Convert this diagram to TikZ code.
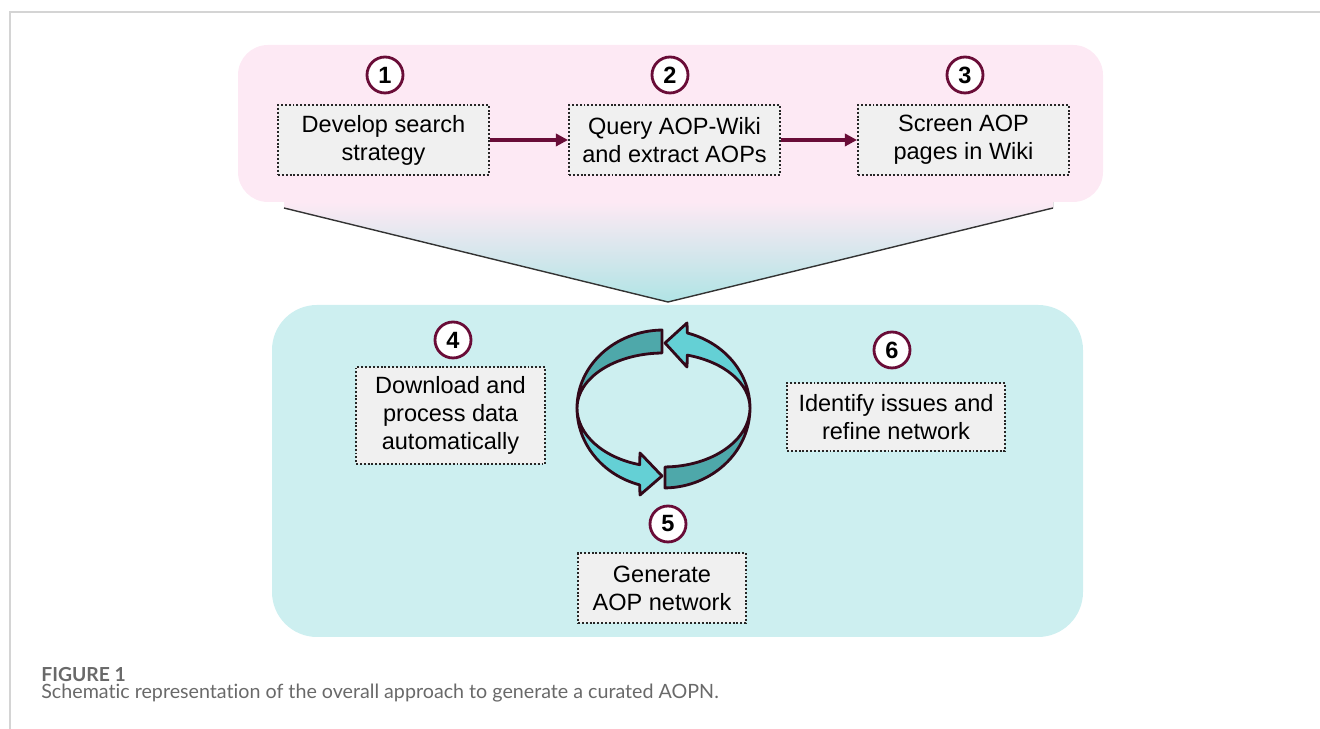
\documentclass[tikz,border=0pt]{standalone}
\usepackage{fontspec}
\setmainfont{Liberation Sans}
\newfontfamily\capfont[Ligatures=NoCommon]{Lato}
\usetikzlibrary{arrows.meta,calc}
\definecolor{pinkbg}{RGB}{253,233,244}
\definecolor{cyanbg}{RGB}{205,239,240}
\definecolor{funnelcyan}{RGB}{176,228,229}
\definecolor{maroon}{RGB}{105,12,55}
\definecolor{tealdark}{RGB}{78,168,170}
\definecolor{teallight}{RGB}{100,208,213}
\definecolor{ringline}{RGB}{50,8,25}
\definecolor{boxfill}{RGB}{240,240,240}
\definecolor{framegray}{RGB}{212,212,212}
\definecolor{capgray}{RGB}{105,105,105}
\newcommand{\boxfont}{\fontsize{13.4}{16}\selectfont}
\begin{document}
\begin{tikzpicture}[x=0.02cm,y=0.02cm,
  stepbox/.style={draw=black!85,line width=1.1pt,dash pattern=on 1.1pt off 1.1pt,
    fill=boxfill,align=center,font=\boxfont,inner sep=0pt},
  stepnum/.style={circle,draw=maroon,line width=1.6pt,fill=white,minimum size=0.72cm,
    inner sep=0pt,font=\fontsize{13.4}{15}\selectfont\bfseries},
  flowarrow/.style={-{Triangle[length=7pt,width=7pt]},line width=1.8pt,draw=maroon},
  ringseg/.style={draw=ringline,line width=1.6pt,line join=round}]
\useasboundingbox (0,0) rectangle (1320,729);
\draw[framegray,line width=1.1pt] (10,0) -- (10,717) -- (1320,717);

% funnel between the two panels
\fill[top color=pinkbg,bottom color=funnelcyan] (284,527) -- (284,521) -- (668,427) -- (1053,521) -- (1053,527) -- cycle;
\draw[black!80,line width=0.8pt] (284,521) -- (668,427) -- (1053,521);

% panels
\fill[pinkbg,rounded corners=0.6cm] (238,527) rectangle (1103,684);
\fill[cyanbg,rounded corners=0.9cm] (272,92) rectangle (1083,424);

% top row
\node[stepbox,minimum width=4.22cm,minimum height=1.4cm] (search) at (383.5,589) {Develop search\\strategy};
\node[stepbox,minimum width=4.22cm,minimum height=1.4cm] (query) at (674.5,589) {Query AOP-Wiki\\and extract AOPs};
\node[stepbox,minimum width=4.22cm,minimum height=1.4cm] (screen) at (963.5,589) {Screen AOP\\pages in Wiki};
\node[stepnum] (n1) at (385,654) {1};
\node[stepnum] (n2) at (670,654) {2};
\node[stepnum] (n3) at (965,654) {3};
\draw[flowarrow] (search) -- (query);
\draw[flowarrow] (query) -- (screen);

% bottom panel
\node[stepbox,minimum width=3.78cm,minimum height=1.94cm] (download) at (450.5,313.5) {Download and\\process data\\automatically};
\node[stepbox,minimum width=3.36cm,minimum height=1.4cm] (generate) at (662,141) {Generate\\AOP network};
\node[stepbox,minimum width=4.36cm,minimum height=1.36cm] (refine) at (896,312) {Identify issues and\\refine network};
\node[stepnum] (n4) at (453,389) {4};
\node[stepnum] (n5) at (668,205) {5};
\node[stepnum] (n6) at (892,379) {6};

% cycle arrows
\coordinate (cyc) at (663.5,321);
\filldraw[ringseg,fill=tealdark] ($(cyc)+(180:1.73cm and 1.56cm)$)
  arc[start angle=180,end angle=91,x radius=1.73cm,y radius=1.56cm]
  -- ($(cyc)+(91:1.73cm and 1.1cm)$)
  arc[start angle=91,end angle=180,x radius=1.73cm,y radius=1.1cm] -- cycle;
\filldraw[ringseg,fill=teallight] ($(cyc)+(0:1.73cm and 1.56cm)$)
  arc[start angle=0,end angle=74,x radius=1.73cm,y radius=1.56cm]
  -- (687,406) -- (665,386) -- (687,362)
  -- ($(cyc)+(74:1.73cm and 1.1cm)$)
  arc[start angle=74,end angle=0,x radius=1.73cm,y radius=1.1cm] -- cycle;
\filldraw[ringseg,fill=teallight] ($(cyc)+(180:1.73cm and 1.6cm)$)
  arc[start angle=180,end angle=254,x radius=1.73cm,y radius=1.6cm]
  -- (640,234) -- (662,253) -- (640,276)
  -- ($(cyc)+(254:1.73cm and 1.18cm)$)
  arc[start angle=254,end angle=180,x radius=1.73cm,y radius=1.18cm] -- cycle;
\filldraw[ringseg,fill=tealdark] ($(cyc)+(271:1.73cm and 1.6cm)$)
  arc[start angle=271,end angle=360,x radius=1.73cm,y radius=1.6cm]
  -- ($(cyc)+(0:1.73cm and 1.18cm)$)
  arc[start angle=360,end angle=271,x radius=1.73cm,y radius=1.18cm] -- cycle;

% caption
\node[anchor=base west,inner sep=0pt,text=capgray,font=\capfont\fontsize{11}{13}\selectfont\bfseries] (figlabel) at (41,47) {FIGURE 1};
\node[anchor=base west,inner sep=0pt,text=capgray,font=\capfont\fontsize{11.2}{13}\selectfont] (figcaption) at (41,30) {Schematic representation of the overall approach to generate a curated AOPN.};
\end{tikzpicture}
\end{document}
